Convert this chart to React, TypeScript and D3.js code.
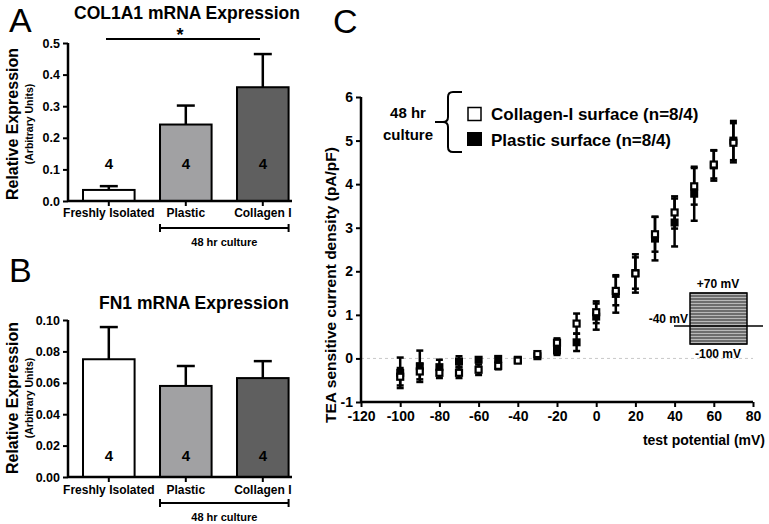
import React, { useEffect, useRef } from "react";
import * as d3 from "d3";

const categories = ["Freshly Isolated", "Plastic", "Collagen I"];
const barColors = ["#ffffff", "#a1a1a3", "#5f5f5f"];
const nLabels = ["4", "4", "4"];

const col1a1Mean = [0.035, 0.242, 0.36];
const col1a1Err = [0.012, 0.06, 0.105];

const fn1Mean = [0.075, 0.058, 0.063];
const fn1Err = [0.0205, 0.0127, 0.0108];

const voltages = [-100, -90, -80, -70, -60, -50, -40, -30, -20, -10, 0, 10, 20, 30, 40, 50, 60, 70];
const plasticMean = [-0.33, -0.18, -0.2, -0.07, -0.03, -0.01, -0.03, 0.05, 0.18, 0.37, 0.96, 1.48, 1.96, 2.75, 3.12, 3.78, 4.43, 5.0];
const plasticErr = [0.35, 0.36, 0.17, 0.12, 0.05, 0.05, 0.05, 0.05, 0.1, 0.2, 0.3, 0.43, 0.36, 0.5, 0.55, 0.62, 0.35, 0.45];
const collagenMean = [-0.42, -0.3, -0.33, -0.33, -0.26, -0.17, -0.05, 0.1, 0.36, 0.8, 1.06, 1.55, 1.95, 2.85, 3.35, 3.95, 4.45, 4.95];
const collagenErr = [0.2, 0.18, 0.12, 0.12, 0.12, 0.08, 0.05, 0.06, 0.1, 0.23, 0.25, 0.33, 0.44, 0.4, 0.37, 0.42, 0.32, 0.45];

const xTicksC = [-120, -100, -80, -60, -40, -20, 0, 20, 40, 60, 80];
const yTicksC = [-1, 0, 1, 2, 3, 4, 5, 6];

const FONT = "'Liberation Sans', Arial, sans-serif";

export default function App() {
  const ref = useRef<SVGSVGElement>(null);

  useEffect(() => {
    const svg = d3.select(ref.current);
    svg.selectAll("*").remove();
    svg.attr("font-family", FONT);

    // ---------- Bar panels ----------
    function barPanel(opts: {
      top: number; bottom: number; max: number; ticks: number[]; fmt: string;
      mean: number[]; err: number[]; title: string; titleX: number; titleY: number; letter: string; letterY: number;
      nY: number; catY: number; bracketY: number; cultureY: number; labelCY: number;
    }) {
      const g = svg.append("g");
      const x = d3.scaleBand<string>().domain(categories).range([70.3, 301.3]).paddingInner(0.33).paddingOuter(0.165);
      const y = d3.scaleLinear().domain([0, opts.max]).range([opts.bottom, opts.top]);
      const axisX = 68;

      categories.forEach((c, i) => {
        const x0 = x(c)!;
        const bw = x.bandwidth();
        const cx = x0 + bw / 2;
        g.append("line").attr("x1", cx).attr("x2", cx).attr("y1", y(opts.mean[i])).attr("y2", y(opts.mean[i] + opts.err[i]))
          .attr("stroke", "#000").attr("stroke-width", 2.5);
        g.append("line").attr("x1", cx - 9).attr("x2", cx + 9).attr("y1", y(opts.mean[i] + opts.err[i])).attr("y2", y(opts.mean[i] + opts.err[i]))
          .attr("stroke", "#000").attr("stroke-width", 2.5);
        g.append("rect").attr("x", x0).attr("y", y(opts.mean[i])).attr("width", bw).attr("height", y(0) - y(opts.mean[i]))
          .attr("fill", barColors[i]).attr("stroke", "#000").attr("stroke-width", 2);
        g.append("text").attr("x", cx).attr("y", opts.nY).attr("text-anchor", "middle").attr("font-size", 15).attr("font-weight", "bold")
          .text(nLabels[i]);
        g.append("line").attr("x1", cx).attr("x2", cx).attr("y1", y(0)).attr("y2", y(0) + 5).attr("stroke", "#000").attr("stroke-width", 2);
        g.append("text").attr("x", cx).attr("y", opts.catY).attr("text-anchor", "middle").attr("font-size", 12).attr("font-weight", "bold")
          .text(c);
      });

      const ay = g.append("g").attr("transform", `translate(${axisX},0)`)
        .call(d3.axisLeft(y).tickValues(opts.ticks).tickFormat(d3.format(opts.fmt)).tickSize(5).tickPadding(3));
      ay.select(".domain").attr("stroke-width", 2.5).attr("d", `M0,${opts.top}V${opts.bottom}`);
      ay.selectAll(".tick line").attr("stroke-width", 2);
      ay.selectAll(".tick text").attr("font-size", 12.5).attr("font-weight", "bold").attr("font-family", FONT);

      g.append("line").attr("x1", axisX).attr("x2", 292).attr("y1", y(0)).attr("y2", y(0)).attr("stroke", "#000").attr("stroke-width", 2.5);

      const bx0 = x("Plastic")!;
      const bx1 = x("Collagen I")! + x.bandwidth();
      g.append("line").attr("x1", bx0).attr("x2", bx1).attr("y1", opts.bracketY).attr("y2", opts.bracketY).attr("stroke", "#000").attr("stroke-width", 2);
      [bx0, bx1].forEach((bx) =>
        g.append("line").attr("x1", bx).attr("x2", bx).attr("y1", opts.bracketY - 4).attr("y2", opts.bracketY + 4).attr("stroke", "#000").attr("stroke-width", 2)
      );
      g.append("text").attr("x", (bx0 + bx1) / 2).attr("y", opts.cultureY).attr("text-anchor", "middle").attr("font-size", 11).attr("font-weight", "bold")
        .text("48 hr culture");

      g.append("text").attr("x", opts.titleX).attr("y", opts.titleY).attr("text-anchor", "middle").attr("font-size", 17.5).attr("font-weight", "bold")
        .text(opts.title);
      g.append("text").attr("x", 9).attr("y", opts.letterY).attr("font-size", 34).text(opts.letter);

      g.append("text").attr("transform", `translate(18,${opts.labelCY}) rotate(-90)`).attr("text-anchor", "middle")
        .attr("font-size", 16).attr("font-weight", "bold").text("Relative Expression");
      g.append("text").attr("transform", `translate(33,${opts.labelCY}) rotate(-90)`).attr("text-anchor", "middle")
        .attr("font-size", 10.5).attr("font-weight", "bold").text("(Arbitrary Units)");
      return { g, x, y };
    }

    const A = barPanel({
      top: 43, bottom: 201, max: 0.5, ticks: [0, 0.1, 0.2, 0.3, 0.4, 0.5], fmt: ".1f",
      mean: col1a1Mean, err: col1a1Err, title: "COL1A1 mRNA Expression", titleX: 187, titleY: 19, letter: "A", letterY: 32,
      nY: 169, catY: 217, bracketY: 228, cultureY: 246, labelCY: 124,
    });
    A.g.append("line").attr("x1", 106).attr("x2", 260).attr("y1", 39).attr("y2", 39).attr("stroke", "#000").attr("stroke-width", 2);
    A.g.append("text").attr("x", 180).attr("y", 41).attr("text-anchor", "middle").attr("font-size", 18).attr("font-weight", "bold").text("*");

    barPanel({
      top: 320, bottom: 477, max: 0.1, ticks: [0, 0.02, 0.04, 0.06, 0.08, 0.1], fmt: ".2f",
      mean: fn1Mean, err: fn1Err, title: "FN1 mRNA Expression", titleX: 194, titleY: 309, letter: "B", letterY: 282,
      nY: 461, catY: 494, bracketY: 503, cultureY: 521, labelCY: 398,
    });

    // ---------- Panel C ----------
    const gc = svg.append("g");
    const xc = d3.scaleLinear().domain([-120, 80]).range([361, 753]);
    const yc = d3.scaleLinear().domain([-1, 6]).range([402, 97]);
    const intFmt = (d: d3.NumberValue) => String(d);

    gc.append("line").attr("x1", xc(-120)).attr("x2", xc(80)).attr("y1", yc(0)).attr("y2", yc(0))
      .attr("stroke", "#c8c8c8").attr("stroke-width", 1).attr("stroke-dasharray", "3,3");

    const ax = gc.append("g").attr("transform", `translate(0,${yc(-1)})`)
      .call(d3.axisBottom(xc).tickValues(xTicksC).tickFormat(intFmt).tickSize(5).tickPadding(4));
    ax.select(".domain").attr("stroke-width", 2.5).attr("d", `M${xc(-120)},0H${xc(80)}`);
    ax.selectAll(".tick line").attr("stroke-width", 2);
    ax.selectAll(".tick text").attr("font-size", 14).attr("font-weight", "bold").attr("font-family", FONT);

    const ayc = gc.append("g").attr("transform", `translate(${xc(-120)},0)`)
      .call(d3.axisLeft(yc).tickValues(yTicksC).tickFormat(intFmt).tickSize(5).tickPadding(3));
    ayc.select(".domain").attr("stroke-width", 2.5).attr("d", `M0,${yc(6)}V${yc(-1)}`);
    ayc.selectAll(".tick line").attr("stroke-width", 2);
    ayc.selectAll(".tick text").attr("font-size", 14).attr("font-weight", "bold").attr("font-family", FONT);

    gc.append("text").attr("x", 765).attr("y", 445).attr("text-anchor", "end").attr("font-size", 14).attr("font-weight", "bold")
      .text("test potential (mV)");
    gc.append("text").attr("transform", `translate(336,285) rotate(-90)`).attr("text-anchor", "middle").attr("font-size", 15.5)
      .attr("font-weight", "bold").text("TEA sensitive current density (pA/pF)");
    gc.append("text").attr("x", 333).attr("y", 33).attr("font-size", 34).text("C");

    function errBars(mean: number[], err: number[]) {
      voltages.forEach((v, i) => {
        const cx = xc(v);
        const y1 = yc(mean[i] + err[i]);
        const y0 = yc(mean[i] - err[i]);
        gc.append("line").attr("x1", cx).attr("x2", cx).attr("y1", y1).attr("y2", y0).attr("stroke", "#000").attr("stroke-width", 2.5);
        [y0, y1].forEach((yy) =>
          gc.append("line").attr("x1", cx - 3.5).attr("x2", cx + 3.5).attr("y1", yy).attr("y2", yy).attr("stroke", "#000").attr("stroke-width", 2.5)
        );
      });
    }
    errBars(plasticMean, plasticErr);
    errBars(collagenMean, collagenErr);

    const s = 8;
    voltages.forEach((v, i) => {
      gc.append("rect").attr("x", xc(v) - s / 2).attr("y", yc(plasticMean[i]) - s / 2).attr("width", s).attr("height", s).attr("fill", "#000");
    });
    voltages.forEach((v, i) => {
      gc.append("rect").attr("x", xc(v) - s / 2 + 1).attr("y", yc(collagenMean[i]) - s / 2 + 1).attr("width", s - 2).attr("height", s - 2)
        .attr("fill", "#fff").attr("stroke", "#000").attr("stroke-width", 2.2);
    });

    gc.append("path").attr("d", "M462,92 L453,92 Q448,92 448,97 L448,117 Q448,122 443,122 L435,122 L443,122 Q448,122 448,127 L448,147 Q448,152 453,152 L462,152")
      .attr("fill", "none").attr("stroke", "#000").attr("stroke-width", 2);
    gc.append("text").attr("x", 408).attr("y", 118).attr("text-anchor", "middle").attr("font-size", 15).attr("font-weight", "bold").text("48 hr");
    gc.append("text").attr("x", 408).attr("y", 140).attr("text-anchor", "middle").attr("font-size", 15).attr("font-weight", "bold").text("culture");
    gc.append("rect").attr("x", 468).attr("y", 107.5).attr("width", 13).attr("height", 13).attr("fill", "#fff").attr("stroke", "#000").attr("stroke-width", 1.5);
    gc.append("rect").attr("x", 467).attr("y", 132).attr("width", 15).attr("height", 14).attr("fill", "#000");
    gc.append("text").attr("x", 491).attr("y", 120).attr("font-size", 17).attr("font-weight", "bold").text("Collagen-I surface (n=8/4)");
    gc.append("text").attr("x", 491).attr("y", 145.5).attr("font-size", 17).attr("font-weight", "bold").text("Plastic surface (n=8/4)");

    const ix0 = 690, ix1 = 747, iy0 = 293, iy1 = 344;
    gc.append("rect").attr("x", ix0).attr("y", iy0).attr("width", ix1 - ix0).attr("height", iy1 - iy0).attr("fill", "#b8b8b8");
    d3.range(iy0, iy1 + 0.1, 3).forEach((yy) => {
      gc.append("line").attr("x1", ix0).attr("x2", ix1).attr("y1", yy).attr("y2", yy).attr("stroke", "#222").attr("stroke-width", 1);
    });
    gc.append("rect").attr("x", ix0).attr("y", iy0).attr("width", ix1 - ix0).attr("height", iy1 - iy0).attr("fill", "none")
      .attr("stroke", "#000").attr("stroke-width", 1.5);
    gc.append("line").attr("x1", 674).attr("x2", 763).attr("y1", 326).attr("y2", 326).attr("stroke", "#000").attr("stroke-width", 1.5);
    gc.append("text").attr("x", 718).attr("y", 288).attr("text-anchor", "middle").attr("font-size", 12).attr("font-weight", "bold").text("+70 mV");
    gc.append("text").attr("x", 688).attr("y", 323).attr("text-anchor", "end").attr("font-size", 12).attr("font-weight", "bold").text("-40 mV");
    gc.append("text").attr("x", 718).attr("y", 358).attr("text-anchor", "middle").attr("font-size", 12).attr("font-weight", "bold").text("-100 mV");
  }, []);

  return (
    <svg ref={ref} width={769} height={524} style={{ position: "absolute", left: 0, top: 0, background: "#fff" }} />
  );
}
